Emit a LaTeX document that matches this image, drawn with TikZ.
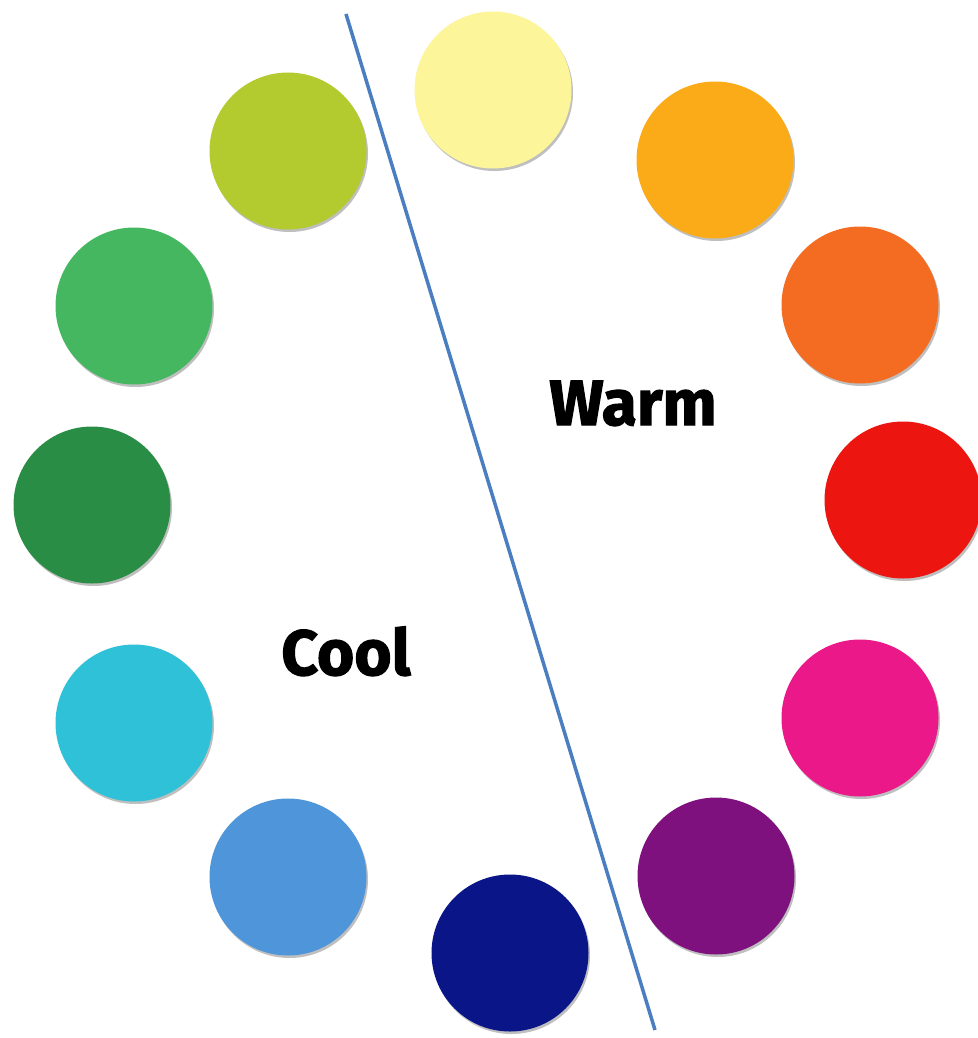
\documentclass[tikz,border=0pt]{standalone}
\usepackage{fontspec}
\newfontfamily\labelfont{Fira Sans}[BoldFeatures={FakeBold=1.8}]
\begin{document}
\begin{tikzpicture}[x=1pt,y=-1pt,
  dot/.style={circle,minimum size=157pt,inner sep=0pt,fill=#1},
  shade/.style={circle,minimum size=157pt,inner sep=0pt,fill=black!25},
  lbl/.style={font=\labelfont\bfseries\fontsize{64}{70}\selectfont,anchor=base,inner sep=0pt}]
\useasboundingbox (0,0) rectangle (977,1038);
\definecolor{c1}{HTML}{B3CB2E}
\definecolor{c2}{HTML}{FCF59A}
\definecolor{c3}{HTML}{FBAB18}
\definecolor{c4}{HTML}{F46B22}
\definecolor{c5}{HTML}{EC150F}
\definecolor{c6}{HTML}{EB1889}
\definecolor{c7}{HTML}{7E117D}
\definecolor{c8}{HTML}{0A1687}
\definecolor{c9}{HTML}{4E95DA}
\definecolor{c10}{HTML}{2EC1D8}
\definecolor{c11}{HTML}{2A8D45}
\definecolor{c12}{HTML}{45B760}
\definecolor{linec}{HTML}{4A7EC0}
\foreach \x/\y/\c in {288/151/c1, 493/90/c2, 715/160/c3, 860/305/c4, 903/500/c5, 860/718/c6, 716/876/c7, 510/953/c8, 288/877/c9, 134/723/c10, 92/505/c11, 134/306/c12}{
  \node[shade] at (\x+1.5,\y+2.5) {};
}
\node[dot=c1] (n1) at (288,151) {};
\node[dot=c2] (n2) at (493,90) {};
\node[dot=c3] (n3) at (715,160) {};
\node[dot=c4] (n4) at (860,305) {};
\node[dot=c5] (n5) at (903,500) {};
\node[dot=c6] (n6) at (860,718) {};
\node[dot=c7] (n7) at (716,876) {};
\node[dot=c8] (n8) at (510,953) {};
\node[dot=c9] (n9) at (288,877) {};
\node[dot=c10] (n10) at (134,723) {};
\node[dot=c11] (n11) at (92,505) {};
\node[dot=c12] (n12) at (134,306) {};
\coordinate (ltop) at (346,14);
\coordinate (lbot) at (655,1030);
\draw[linec,line width=3.5pt] (ltop) -- (lbot);
\node[lbl] (warm) at (633,425) {Warm};
\node[lbl] (cool) at (346,675) {Cool};
\end{tikzpicture}
\end{document}
